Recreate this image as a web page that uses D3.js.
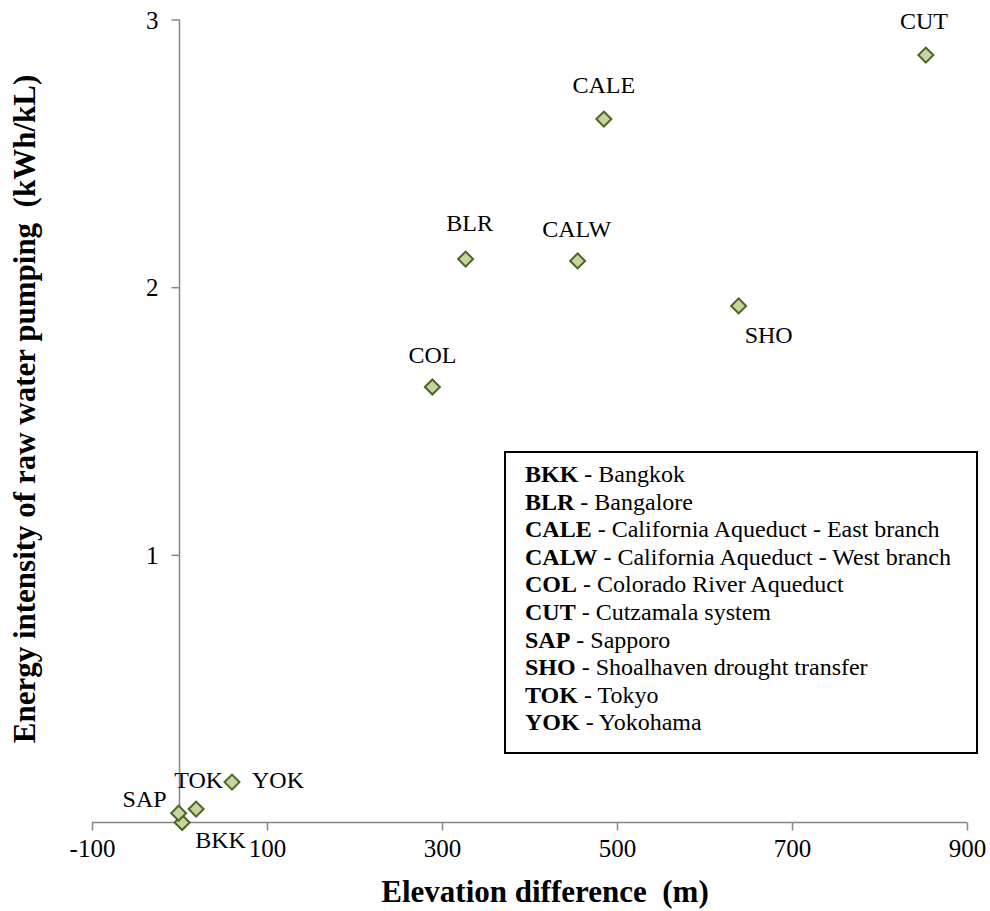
<!DOCTYPE html>
<html>
<head>
<meta charset="utf-8">
<script src="https://cdn.jsdelivr.net/npm/d3@7"></script>
<style>
  body { margin: 0; background: #fff; }
  svg, svg text { font-family: "Liberation Serif", "Times New Roman", Tinos, serif; }
  .axis path, .axis line { stroke: #868686; stroke-width: 1.5; }
</style>
</head>
<body>
<svg id="chart" width="990" height="911"></svg>
<script>
// Raw water pumping: elevation difference vs energy intensity
var codes = ['BKK', 'BLR', 'CALE', 'CALW', 'COL', 'CUT', 'SAP', 'SHO', 'TOK', 'YOK']
  , names = ['Bangkok', 'Bangalore', 'California Aqueduct - East branch',
             'California Aqueduct - West branch', 'Colorado River Aqueduct',
             'Cutzamala system', 'Sapporo', 'Shoalhaven drought transfer', 'Tokyo', 'Yokohama']
  , elevation = [3, 327, 485, 455, 289, 853, -1, 639, 19, 60]      // m
  , intensity = [0.0, 2.105, 2.628, 2.098, 1.627, 2.867, 0.035, 1.93, 0.05, 0.151] // kWh/kL
  , xTicks = [-100, 100, 300, 500, 700, 900]
  , yTicks = [1, 2, 3]

// where each point label sits relative to its marker (layout only)
var labelPlace = {
  BKK:  { dx: 13,  dy: 25,  anchor: 'start' },
  BLR:  { dx: 4,   dy: -28, anchor: 'middle' },
  CALE: { dx: 0,   dy: -26, anchor: 'middle' },
  CALW: { dx: -1,  dy: -24, anchor: 'middle' },
  COL:  { dx: 0,   dy: -24, anchor: 'middle' },
  CUT:  { dx: -2,  dy: -26, anchor: 'middle' },
  SAP:  { dx: -12, dy: -6,  anchor: 'end' },
  SHO:  { dx: 6,   dy: 37,  anchor: 'start' },
  TOK:  { dx: 27,  dy: -21, anchor: 'end' },
  YOK:  { dx: 20,  dy: 6,   anchor: 'start' }
}

var svg = d3.select('#chart')
  , points = codes.map(function(c, i) { return { code: c, x: elevation[i], y: intensity[i] } })

var x = d3.scaleLinear().domain([-100, 900]).range([92, 967])
  , y = d3.scaleLinear().domain([0, 3]).range([822.5, 19.5])

// x axis sits on y = 0, y axis on x = 0
var xAxis = svg.append('g').attr('class', 'axis')
  .attr('transform', 'translate(0,' + y(0) + ')')
  .call(d3.axisBottom(x).tickValues(xTicks).tickSize(8).tickSizeOuter(0).tickFormat(String))
xAxis.select('.domain').attr('d', 'M' + x(-100) + ',0H' + x(900))
xAxis.selectAll('text').attr('y', 34).attr('dy', 0)

var yAxis = svg.append('g').attr('class', 'axis')
  .attr('transform', 'translate(' + x(0) + ',0)')
  .call(d3.axisLeft(y).tickValues(yTicks).tickSize(8).tickSizeOuter(0).tickFormat(String))
yAxis.select('.domain').attr('d', 'M0,' + y(0) + 'V' + y(3))
yAxis.selectAll('text').attr('x', -21).attr('dy', '0.34em')

svg.selectAll('.axis').attr('font-family', null).attr('font-size', null)
svg.selectAll('.axis text')
  .attr('fill', '#000')
  .style('font-size', '25px')

// axis titles
svg.append('text')
  .attr('x', 545).attr('y', 902)
  .attr('text-anchor', 'middle')
  .style('font-size', '31px').style('font-weight', 'bold')
  .style('white-space', 'pre')
  .text('Elevation difference  (m)')

svg.append('text')
  .attr('transform', 'translate(35,409) rotate(-90)')
  .attr('text-anchor', 'middle')
  .style('font-size', '31px').style('font-weight', 'bold')
  .style('white-space', 'pre')
  .text('Energy intensity of raw water pumping  (kWh/kL)')

// markers
svg.append('g').selectAll('path').data(points).enter().append('path')
  .attr('d', d3.symbol(d3.symbolSquare, 112))
  .attr('transform', function(d) { return 'translate(' + x(d.x) + ',' + y(d.y) + ') rotate(45)' })
  .attr('fill', '#c3d69b')
  .attr('stroke', '#4f6228')
  .attr('stroke-width', 2)

// point labels
svg.append('g').selectAll('text').data(points).enter().append('text')
  .attr('x', function(d) { return x(d.x) + labelPlace[d.code].dx })
  .attr('y', function(d) { return y(d.y) + labelPlace[d.code].dy })
  .attr('text-anchor', function(d) { return labelPlace[d.code].anchor })
  .style('font-size', '24px')
  .text(function(d) { return d.code })

// key box
var key = svg.append('g')
key.append('rect')
  .attr('x', 505).attr('y', 452).attr('width', 472).attr('height', 301)
  .attr('fill', '#fff').attr('stroke', '#000').attr('stroke-width', 2)

var rows = key.selectAll('text').data(codes).enter().append('text')
  .attr('x', 525)
  .attr('y', function(d, i) { return 482 + i * 27.6 })
  .style('font-size', '24px')
rows.append('tspan').style('font-weight', 'bold').text(function(d) { return d })
rows.append('tspan').text(function(d, i) { return ' - ' + names[i] })
</script>
</body>
</html>
